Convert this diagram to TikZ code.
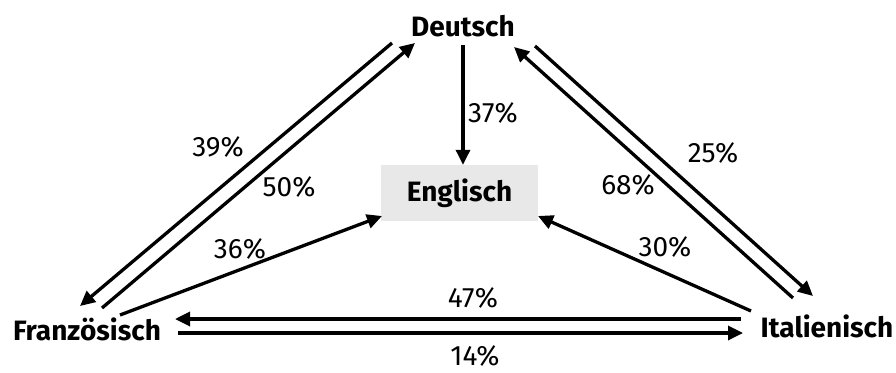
\documentclass[tikz,border=0pt]{standalone}
\usepackage{fontspec}
\setmainfont{Fira Sans}
\usetikzlibrary{arrows.meta}
\definecolor{boxgray}{HTML}{E8E8E8}
\tikzset{
  lang/.style={font=\bfseries\fontsize{28}{30}\selectfont, inner sep=0pt},
  pct/.style={font=\fontsize{28}{30}\selectfont, inner sep=0pt},
  arr/.style={line width=3.3pt, -{Triangle[length=15pt,width=14pt]}}
}
\begin{document}
\begin{tikzpicture}[x=1pt,y=-1pt]
\useasboundingbox (0,0) rectangle (896,372);
\node[lang] (D) at (463,26) {Deutsch};
\node[lang, fill=boxgray, minimum width=157pt, minimum height=56pt] (E) at (459.5,193) {Englisch};
\node[lang] (F) at (87,329) {Französisch};
\node[lang] (I) at (827,326) {Italienisch};
% endpoints
\coordinate (dt) at (463,45);
\coordinate (dfA) at (392,43);
\coordinate (dfB) at (80,306);
\coordinate (fdA) at (102,308);
\coordinate (fdB) at (415,43);
\coordinate (idA) at (793,298);
\coordinate (idB) at (514,47);
\coordinate (diA) at (535,46);
\coordinate (diB) at (813,296);
\coordinate (feA) at (120,315);
\coordinate (feB) at (382,216);
\coordinate (ieA) at (751,311);
\coordinate (ieB) at (538,216);
\coordinate (ifA) at (741,319);
\coordinate (ifB) at (175,319);
\coordinate (fiA) at (178,333);
\coordinate (fiB) at (743,333);
% connectors
\draw[arr] (dt) -- (E.north -| dt);
\draw[arr] (dfA) -- (dfB);
\draw[arr] (fdA) -- (fdB);
\draw[arr] (idA) -- (idB);
\draw[arr] (diA) -- (diB);
\draw[arr] (feA) -- (feB);
\draw[arr] (ieA) -- (ieB);
\draw[arr] (ifA) -- (ifB);
\draw[arr] (fiA) -- (fiB);
% labels
\node[pct] (p37) at (493,113) {37\%};
\node[pct] (p39) at (218,147) {39\%};
\node[pct] (p50) at (289,187) {50\%};
\node[pct] (p25) at (713,153) {25\%};
\node[pct] (p68) at (628,185) {68\%};
\node[pct] (p36) at (240,249) {36\%};
\node[pct] (p30) at (665,247) {30\%};
\node[pct] (p47) at (473,298) {47\%};
\node[pct] (p14) at (475,356) {14\%};
\end{tikzpicture}
\end{document}
